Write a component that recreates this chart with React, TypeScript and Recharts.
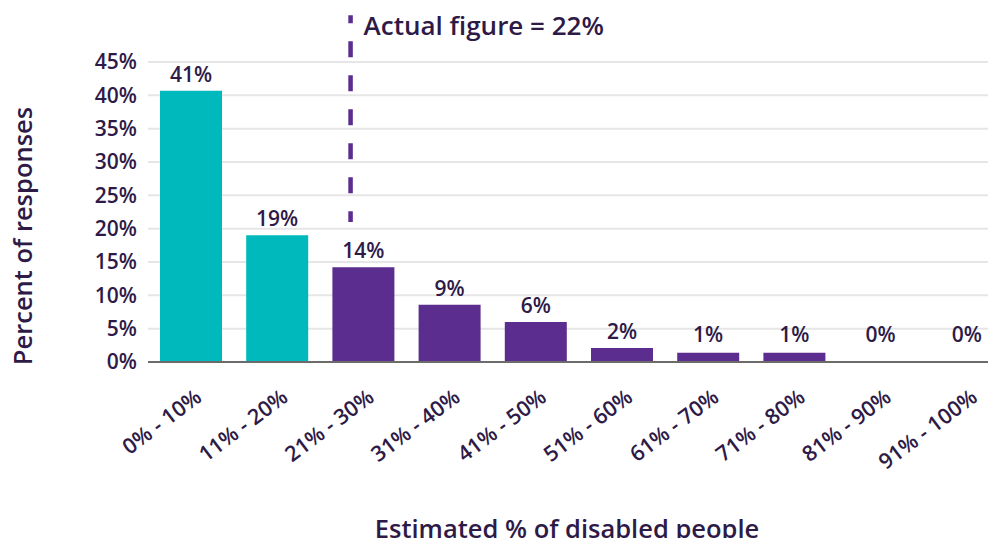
import { Bar, BarChart, CartesianGrid, Cell, Label, LabelList, ReferenceLine, XAxis, YAxis } from 'recharts';

const categories = [
  '0% - 10%',
  '11% - 20%',
  '21% - 30%',
  '31% - 40%',
  '41% - 50%',
  '51% - 60%',
  '61% - 70%',
  '71% - 80%',
  '81% - 90%',
  '91% - 100%',
];
// midpoint of each range, used by the hidden scale for the marker
const rangeMidpoints = [5, 15, 25, 35, 45, 55, 65, 75, 85, 95];
const responseShares = [40.7, 19.0, 14.2, 8.6, 6.0, 2.1, 1.4, 1.4, 0, 0];
const yTicks = [0, 5, 10, 15, 20, 25, 30, 35, 40, 45];

const actualFigure = 22;
const actualMarkerX = 23.5;
const markerRange = [52, 21];

const INK = '#2E1A47';
const TEAL = '#00B9BC';
const PURPLE = '#5B2D8E';
const FONT = '"Open Sans", sans-serif';

const data = categories.map((range, i) => ({
  range,
  mid: rangeMidpoints[i],
  share: responseShares[i],
}));

const CategoryTick = ({ x, y, payload }: any) => (
  <text
    transform={`translate(${x + 12},${y + 30}) rotate(-37)`}
    textAnchor='end'
    fill={INK}
    fontSize={21.5}
    fontWeight={600}
    fontFamily={FONT}
  >
    {payload.value}
  </text>
);

const ValueLabel = ({ x, y, width, value }: any) => (
  <text
    x={x + width / 2}
    y={Math.min(y - 9, 342)}
    textAnchor='middle'
    fill={INK}
    fontSize={21}
    fontWeight={600}
    fontFamily={FONT}
  >
    {`${Math.round(value)}%`}
  </text>
);

const XTitle = ({ viewBox }: any) => (
  <text
    x={viewBox.x + viewBox.width / 2 - 12}
    y={538}
    textAnchor='middle'
    fill={INK}
    fontSize={25.5}
    fontWeight={600}
    fontFamily={FONT}
  >
    Estimated % of disabled people
  </text>
);

const YTitle = ({ viewBox }: any) => {
  const cy = viewBox.y + viewBox.height / 2 + 24;
  return (
    <text
      transform={`translate(32,${cy}) rotate(-90)`}
      textAnchor='middle'
      fill={INK}
      fontSize={25.5}
      fontWeight={600}
      fontFamily={FONT}
    >
      Percent of responses
    </text>
  );
};

const MarkerLabel = ({ viewBox }: any) => (
  <text x={viewBox.x + 13} y={viewBox.y + 20} fill={INK} fontSize={26} fontWeight={600} fontFamily={FONT}>
    {`Actual figure = ${actualFigure}%`}
  </text>
);

export default function App() {
  return (
    <div style={{ margin: -8, width: 996, height: 546, overflow: 'hidden', background: '#fff' }}>
      <BarChart width={1010} height={546} data={data} margin={{ top: 62, right: 0, bottom: 0, left: 0 }}>
        <CartesianGrid vertical={false} stroke='#E6E6E6' strokeWidth={2} />
        <XAxis
          dataKey='range'
          height={184}
          interval={0}
          tickLine={false}
          axisLine={{ stroke: '#6B6B6B', strokeWidth: 2 }}
          tick={<CategoryTick />}
        >
          <Label content={<XTitle />} />
        </XAxis>
        <XAxis xAxisId='marker' dataKey='mid' type='number' domain={[0, 100]} allowDataOverflow hide />
        <YAxis
          width={148}
          domain={[0, 45]}
          ticks={yTicks}
          tickFormatter={(v) => `${v}%`}
          axisLine={false}
          tickLine={false}
          tickMargin={5}
          tick={{ fill: INK, fontSize: 21, fontWeight: 600, fontFamily: FONT }}
        >
          <Label content={<YTitle />} />
        </YAxis>
        <Bar dataKey='share' barSize={62} minPointSize={0.3} isAnimationActive={false}>
          {data.map((d, i) => (
            <Cell key={d.range} fill={i < 2 ? TEAL : PURPLE} />
          ))}
          <LabelList dataKey='share' content={<ValueLabel />} />
        </Bar>
        <ReferenceLine
          xAxisId='marker'
          segment={[
            { x: actualMarkerX, y: markerRange[0] },
            { x: actualMarkerX, y: markerRange[1] },
          ]}
          ifOverflow='visible'
          stroke={PURPLE}
          strokeWidth={4.5}
          strokeDasharray='16 18'
          strokeDashoffset={8}
          label={<MarkerLabel />}
        />
      </BarChart>
    </div>
  );
}
